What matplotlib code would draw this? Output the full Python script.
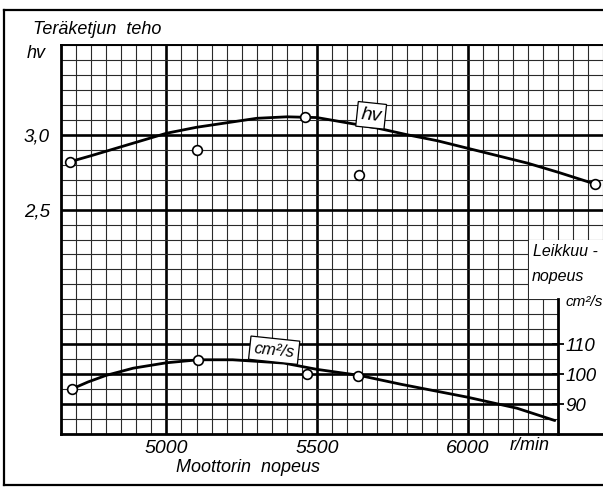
import numpy as np
import matplotlib
matplotlib.use('Agg')
import matplotlib.pyplot as plt
from matplotlib.lines import Line2D
from matplotlib.patches import Polygon

plt.rcParams['font.family'] = ['Liberation Sans', 'DejaVu Sans']
plt.rcParams['font.style'] = 'italic'

# saw chain power (hv) against motor speed (r/min)
rpm_hv_curve = [4680, 4750, 4800, 4900, 5000, 5100, 5200, 5300, 5400, 5500,
                5600, 5700, 5800, 5900, 6000, 6100, 6200, 6300, 6425]
hv_curve = [2.82, 2.86, 2.89, 2.95, 3.01, 3.05, 3.08, 3.11, 3.12, 3.115,
            3.08, 3.045, 3.00, 2.96, 2.91, 2.86, 2.81, 2.75, 2.67]
# measured points (open circles)
rpm_hv_meas = [4680, 5100, 5460, 5640, 6425]
hv_meas = [2.82, 2.90, 3.12, 2.73, 2.67]

# cutting speed (cm2/s)
rpm_cut_curve = [4685, 4740, 4800, 4890, 5000, 5106, 5220, 5390, 5500, 5640,
                 5780, 6000, 6165, 6290]
cut_curve = [95, 97.4, 99.6, 102, 103.8, 104.8, 104.8, 103.7, 101.6, 99.6,
             96.6, 92.3, 88.6, 84.5]
rpm_cut_meas = [4685, 5105, 5468, 5638]
cut_meas = [95, 104.8, 100, 99.5]

x_ticks = [5000, 5500, 6000]
hv_ticks = [2.5, 3.0]
cut_ticks = [90, 100, 110]

W, H = 603, 487


def fx(px):
    return px / W


def fy(py):
    return 1 - py / H


fig = plt.figure(figsize=(W / 100, H / 100), dpi=100)

ax = fig.add_axes([fx(61), fy(434), (W - 61) / W, (434 - 45) / H])
ax.set_xlim(4650, 6450)
ax.set_ylim(1.0, 3.6)
ax.set_xticks(x_ticks)
ax.set_xticks(np.arange(4650, 6451, 50), minor=True)
ax.set_yticks(hv_ticks)
ax.set_yticks(np.arange(1.0, 3.61, 0.1), minor=True)
ax.set_yticklabels([f'{v:.1f}'.replace('.', ',') for v in hv_ticks])
ax.tick_params(which='both', length=0)
ax.tick_params(axis='x', pad=4, labelsize=14)
ax.tick_params(axis='y', pad=8, labelsize=13.5)
ax.set_axisbelow(True)
ax.grid(which='minor', color='#2a2a2a', lw=0.8)
ax.grid(which='major', color='black', lw=1.9)
ax.spines['right'].set_visible(False)
ax.spines['left'].set_linewidth(2)
ax.spines['bottom'].set_linewidth(2)
ax.spines['top'].set_linewidth(1.4)

# white label field at the right edge
field = Polygon([(6203, 2.297), (6450, 2.297), (6450, 1.0), (6300, 1.0),
                 (6300, 1.905), (6203, 1.905)],
                closed=True, fc='white', ec='none', zorder=0.8)
ax.add_patch(field)

ax.plot(rpm_hv_curve, hv_curve, color='black', lw=2.0, zorder=3,
        solid_capstyle='round')
ax.plot(rpm_hv_meas, hv_meas, 'o', mfc='white', mec='black', ms=7, mew=1.2,
        zorder=4)
ax.text(5680, 3.13, 'hv', fontsize=14, ha='center', va='center', rotation=-6,
        bbox=dict(boxstyle='square,pad=0.2', fc='white', ec='black', lw=0.9),
        zorder=5)

# cutting speed scale
ax2 = ax.twinx()
ax2.set_ylim(80, 210)
ax2.set_yticks(cut_ticks)
ax2.hlines(cut_ticks, 4650, 6300, color='black', lw=1.9, zorder=1)
for s in ['top', 'bottom', 'left']:
    ax2.spines[s].set_visible(False)
ax2.spines['right'].set_position(('data', 6300))
ax2.spines['right'].set_bounds(80, 125)
ax2.spines['right'].set_linewidth(2)
ax2.tick_params(axis='y', direction='inout', length=9, width=1.3, pad=1,
                labelsize=13.5)

ax2.plot(rpm_cut_curve, cut_curve, color='black', lw=2.0, zorder=3,
         solid_capstyle='round')
ax2.plot(rpm_cut_meas, cut_meas, 'o', mfc='white', mec='black', ms=7, mew=1.2,
         zorder=4)
ax2.text(5358, 108, 'cm²/s', fontsize=12, ha='center', va='center',
         rotation=-6,
         bbox=dict(boxstyle='square,pad=0.25', fc='white', ec='black', lw=0.9),
         zorder=5)

# texts
fig.text(fx(33), fy(30), 'Teräketjun  teho', fontsize=13, ha='left', va='center')
fig.text(fx(36), fy(54), 'hv', fontsize=13, ha='center', va='center')
fig.text(fx(533), fy(251), 'Leikkuu -', fontsize=11.5, ha='left', va='center')
fig.text(fx(532), fy(277), 'nopeus', fontsize=11.5, ha='left', va='center')
fig.text(fx(566), fy(302), 'cm²/s', fontsize=11, ha='left', va='center')
fig.text(fx(248), fy(468), 'Moottorin  nopeus', fontsize=13, ha='center',
         va='center')
fig.text(fx(510), fy(445), 'r/min', fontsize=13, ha='left', va='center')

# outer frame of the page
fig.add_artist(Line2D([fx(4), fx(4)], [fy(10), fy(485)], color='black', lw=1.6))
fig.add_artist(Line2D([fx(4), 1], [fy(10), fy(10)], color='black', lw=1.6))
fig.add_artist(Line2D([fx(4), 1], [fy(485), fy(485)], color='black', lw=1.6))

fig.savefig('out.png', dpi=100)
